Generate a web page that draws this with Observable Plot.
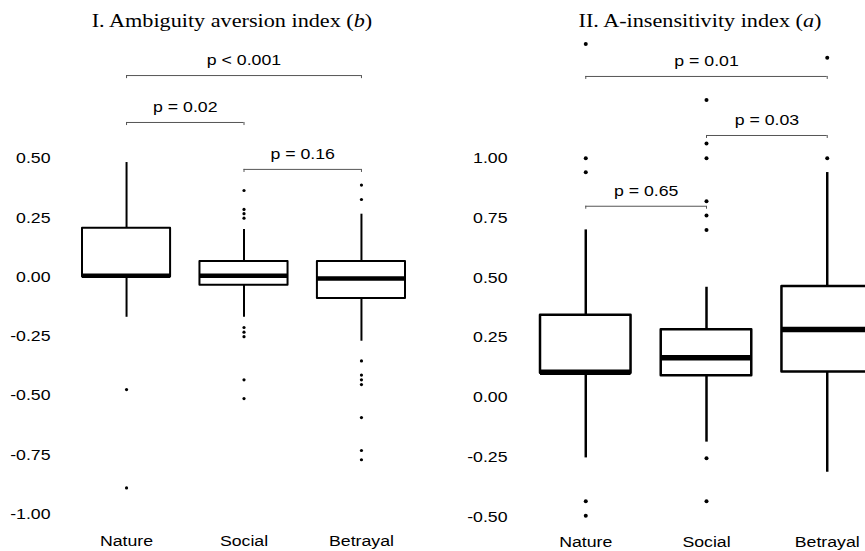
<!DOCTYPE html>
<html>
<head>
<meta charset="utf-8">
<script src="https://cdn.jsdelivr.net/npm/d3@7"></script>
<script src="https://cdn.jsdelivr.net/npm/@observablehq/plot@0.6"></script>
<style>
  html, body { margin: 0; padding: 0; background: #fff; overflow: hidden; }
  #wrap { position: relative; width: 865px; height: 551px; overflow: hidden; background: #fff; }
  .panel { position: absolute; top: 0; height: 551px; }
  .title { position: absolute; top: 11px; white-space: nowrap; transform: translateX(-50%) scaleX(1.2);
           font-family: "Liberation Serif", "Times New Roman", serif; font-size: 18.5px; line-height: 20px; color: #000; }
  .panel svg { position: absolute; top: 36px; left: 0; }
</style>
</head>
<body>
<div id="wrap">
  <div class="panel" id="left" style="left:0;width:430px;">
    <div class="title" style="left:232px;">I. Ambiguity aversion index (<i>b</i>)</div>
  </div>
  <div class="panel" id="right" style="left:430px;width:445px;">
    <div class="title" style="left:270px;">II. A-insensitivity index (<i>a</i>)</div>
  </div>
</div>
<script>
// ---------- data ----------
const groups = ["Nature", "Social", "Betrayal"];

// Panel I: Ambiguity aversion index (b)
const bLow    = [-0.170, -0.170, -0.271];
const bQ1     = [ 0.000, -0.035, -0.091];
const bMedian = [ 0.005,  0.005, -0.006];
const bQ3     = [ 0.206,  0.065,  0.065];
const bHigh   = [ 0.483,  0.200,  0.265];
const bOutNature   = [-0.475, -0.890];
const bOutSocial   = [0.365, 0.285, 0.267, 0.248, -0.213, -0.233, -0.252, -0.434, -0.513];
const bOutBetrayal = [0.388, 0.327, -0.354, -0.414, -0.434, -0.454, -0.593, -0.732, -0.771];
const bTicks = [-1.00, -0.75, -0.50, -0.25, 0.00, 0.25, 0.50];
const bPFrom  = ["Nature", "Nature", "Social"];
const bPTo    = ["Betrayal", "Social", "Betrayal"];
const bPY     = [0.850, 0.652, 0.454];
const bPLabel = ["p < 0.001", "p = 0.02", "p = 0.16"];

// Panel II: A-insensitivity index (a)
const aLow    = [-0.254, -0.188, -0.314];
const aQ1     = [ 0.100,  0.090,  0.105];
const aMedian = [ 0.104,  0.165,  0.283];
const aQ3     = [ 0.343,  0.282,  0.463];
const aHigh   = [ 0.700,  0.460,  0.940];
const aOutNature   = [1.478, 1.000, 0.941, -0.435, -0.496];
const aOutSocial   = [1.243, 1.061, 1.000, 0.820, 0.760, 0.700, -0.255, -0.435];
const aOutBetrayal = [1.420, 1.000];
const aTicks = [-0.50, -0.25, 0.00, 0.25, 0.50, 0.75, 1.00];
const aPFrom  = ["Nature", "Social", "Nature"];
const aPTo    = ["Betrayal", "Betrayal", "Social"];
const aPY     = [1.342, 1.095, 0.799];
const aPLabel = ["p = 0.01", "p = 0.03", "p = 0.65"];

// ---------- build ----------
const HW = 0.375; // half box width, in category units
const STRETCH = 1.15; // the reference's lettering is horizontally widened
function makePanel(cfg) {
  const boxes = groups.map((g, i) => ({i, g, lo: cfg.low[i], q1: cfg.q1[i], med: cfg.median[i], q3: cfg.q3[i], hi: cfg.high[i]}));
  const outs = [];
  cfg.outliers.forEach((arr, i) => arr.forEach(v => outs.push({i, v})));
  const brackets = cfg.pFrom.map((f, k) => ({
    a: groups.indexOf(f), b: groups.indexOf(cfg.pTo[k]), y: cfg.pY[k], label: cfg.pLabel[k]
  }));
  const font = {fontFamily: "'Liberation Sans', Arial, sans-serif", fontSize: "15.4px"};
  const svg = Plot.plot({
    width: cfg.width, height: 515,
    marginLeft: cfg.ml, marginRight: cfg.mr, marginTop: cfg.mt, marginBottom: cfg.mb,
    style: {...font, background: "transparent", overflow: "visible", color: "#000"},
    x: {domain: [-HW, 2 + HW], ticks: [0, 1, 2], tickFormat: i => groups[i], tickSize: 0, tickPadding: cfg.xPad, label: null},
    y: {domain: cfg.domain, ticks: cfg.ticks, tickFormat: d => d.toFixed(2), tickSize: 0, tickPadding: cfg.yPad, label: null},
    marks: [
      Plot.ruleX(boxes, {x: "i", y1: "q3", y2: "hi", strokeWidth: cfg.sw}),
      Plot.ruleX(boxes, {x: "i", y1: "lo", y2: "q1", strokeWidth: cfg.sw}),
      Plot.rect(boxes, {x1: d => d.i - HW, x2: d => d.i + HW, y1: "q1", y2: "q3", fill: "#fff", stroke: "#000", strokeWidth: cfg.sw, strokeLinejoin: "round"}),
      Plot.ruleY(boxes, {y: "med", x1: d => d.i - HW, x2: d => d.i + HW, strokeWidth: cfg.medW}),
      Plot.dot(outs, {x: "i", y: "v", r: cfg.r, fill: "#000", stroke: null}),
      Plot.ruleY(brackets, {y: "y", x1: "a", x2: "b", stroke: "#555", strokeWidth: 1}),
      Plot.ruleX(brackets, {x: "a", y1: "y", y2: d => d.y - cfg.drop, stroke: "#555", strokeWidth: 1}),
      Plot.ruleX(brackets, {x: "b", y1: "y", y2: d => d.y - cfg.drop, stroke: "#555", strokeWidth: 1}),
      Plot.text(brackets, {x: d => (d.a + d.b) / 2, y: "y", text: "label", dy: -15, fill: "#000", ...font})
    ]
  });
  // widen lettering around each text's own anchor
  svg.querySelectorAll("text").forEach(t => {
    const tr = t.getAttribute("transform") || "";
    t.setAttribute("transform", (tr + " scale(" + STRETCH + ",1)").trim());
  });
  return svg;
}

const left = makePanel({
  width: 430, ml: 82, mr: 25, mt: 122, mb: 37.5, xPad: 21.5, yPad: 32,
  domain: [-1.0, 0.5], ticks: bTicks,
  low: bLow, q1: bQ1, median: bMedian, q3: bQ3, high: bHigh,
  outliers: [bOutNature, bOutSocial, bOutBetrayal],
  pFrom: bPFrom, pTo: bPTo, pY: bPY, pLabel: bPLabel,
  sw: 2, medW: 4.5, r: 1.6, drop: 0.013
});
const right = makePanel({
  width: 445, ml: 110, mr: 3, mt: 121.7, mb: 34.8, xPad: 19, yPad: 33,
  domain: [-0.5, 1.0], ticks: aTicks,
  low: aLow, q1: aQ1, median: aMedian, q3: aQ3, high: aHigh,
  outliers: [aOutNature, aOutSocial, aOutBetrayal],
  pFrom: aPFrom, pTo: aPTo, pY: aPY, pLabel: aPLabel,
  sw: 2.5, medW: 5.5, r: 2, drop: 0.0125
});
document.getElementById("left").appendChild(left);
document.getElementById("right").appendChild(right);
</script>
</body>
</html>
